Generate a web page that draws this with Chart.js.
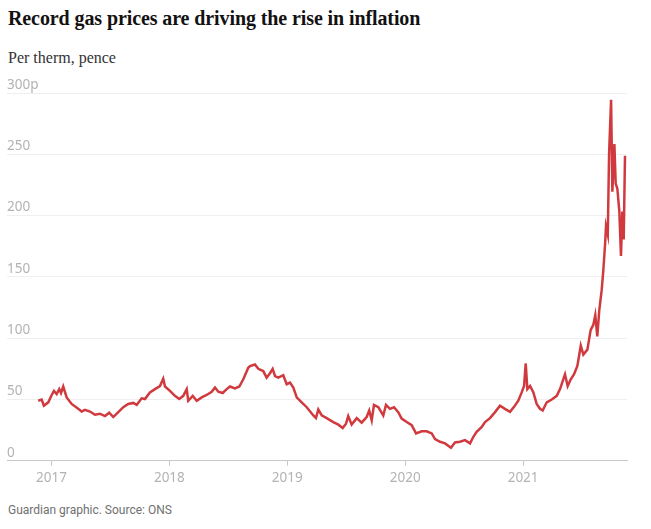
<!DOCTYPE html>
<html lang="en">
<head>
<meta charset="UTF-8">
<title>Record gas prices are driving the rise in inflation</title>
<script src="https://cdn.jsdelivr.net/npm/chart.js"></script>
<style>
    body { margin: 0; background: #fff; }
    .wrap { position: relative; width: 651px; height: 529px; overflow: hidden; }
    .title {
        position: absolute; left: 8px; top: 7px;
        font: bold 20px/22px "Liberation Serif", serif;
        letter-spacing: -0.1px; color: #121212; white-space: nowrap;
    }
    .sub {
        position: absolute; left: 8px; top: 48px;
        font: 16px/20px "Liberation Serif", serif; color: #333;
    }
    .source {
        position: absolute; left: 8px; top: 502px;
        font: 12px/16px Roboto, sans-serif; color: #707070;
    }
    #chart { position: absolute; left: 0; top: 70px; }
</style>
</head>
<body>
<div class="wrap">
    <div class="title">Record gas prices are driving the rise in inflation</div>
    <div class="sub">Per therm, pence</div>
    <canvas id="chart" width="651" height="420"></canvas>
    <div class="source">Guardian graphic. Source: ONS</div>
</div>
<script>
// decimal years
const dates = [
    2016.888, 2016.917, 2016.936, 2016.973, 2017.002, 2017.021, 2017.044, 2017.066, 2017.081, 2017.100,
    2017.129, 2017.171, 2017.227, 2017.256, 2017.284, 2017.327, 2017.369, 2017.411, 2017.454, 2017.490,
    2017.524, 2017.567, 2017.609, 2017.651, 2017.694, 2017.723, 2017.765, 2017.793, 2017.835, 2017.878,
    2017.920, 2017.948, 2017.963, 2018.005, 2018.047, 2018.084, 2018.118, 2018.147, 2018.160, 2018.198,
    2018.232, 2018.274, 2018.316, 2018.359, 2018.387, 2018.415, 2018.452, 2018.486, 2018.514, 2018.556,
    2018.593, 2018.627, 2018.669, 2018.684, 2018.726, 2018.754, 2018.796, 2018.825, 2018.853, 2018.876,
    2018.896, 2018.924, 2018.966, 2018.995, 2019.023, 2019.051, 2019.080, 2019.122, 2019.165, 2019.221,
    2019.243, 2019.263, 2019.292, 2019.334, 2019.390, 2019.433, 2019.470, 2019.498, 2019.517, 2019.546,
    2019.589, 2019.631, 2019.673, 2019.695, 2019.716, 2019.735, 2019.772, 2019.814, 2019.837, 2019.871,
    2019.905, 2019.941, 2019.970, 2020.013, 2020.055, 2020.092, 2020.140, 2020.182, 2020.225, 2020.253,
    2020.295, 2020.338, 2020.388, 2020.422, 2020.465, 2020.507, 2020.550, 2020.578, 2020.606, 2020.649,
    2020.677, 2020.719, 2020.762, 2020.804, 2020.846, 2020.889, 2020.923, 2020.959, 2020.988, 2021.008,
    2021.022, 2021.036, 2021.059, 2021.087, 2021.115, 2021.143, 2021.166, 2021.200, 2021.243, 2021.285,
    2021.313, 2021.355, 2021.378, 2021.404, 2021.432, 2021.460, 2021.489, 2021.511, 2021.545, 2021.573,
    2021.595, 2021.612, 2021.629, 2021.646, 2021.666, 2021.680, 2021.695, 2021.703, 2021.718, 2021.729,
    2021.746, 2021.757, 2021.774, 2021.785, 2021.799, 2021.816, 2021.830, 2021.841, 2021.853, 2021.864
];
// pence per therm
const prices = [
    49, 50, 45, 47.7, 53.7, 57, 54.5, 58.5, 55.3, 60.6,
    51.7, 46.4, 42.4, 40.2, 41.6, 40.2, 37.6, 38.4, 36.5, 39.2,
    35.7, 39.7, 43.7, 46.4, 47.2, 45.6, 51, 50.4, 55.8, 58.5,
    61, 67, 60.6, 57, 53, 50.4, 53, 58.5, 49, 53,
    49, 51.7, 53.7, 56.3, 59.8, 56.3, 55.3, 58.5, 60.6, 59,
    60.6, 66.5, 75.9, 77.3, 78.6, 75, 73.2, 67.8, 71.4, 75,
    69, 67.8, 69.8, 62.5, 63.8, 59.8, 51.7, 47.7, 43.7, 37,
    34.8, 41.8, 37, 34.8, 31.6, 29.5, 26.8, 30.3, 36.5, 29.5,
    34.8, 31.1, 35.7, 41, 33, 45.6, 43.7, 37, 45.6, 42.4,
    43.7, 39.7, 34.4, 31.6, 29, 22.3, 24.1, 24.1, 22.3, 17.7,
    15.5, 14.2, 10.7, 15, 15.5, 16.9, 14.2, 19.6, 23.6, 27.6,
    31.6, 34.8, 39.7, 45, 42.4, 40, 44, 49, 55.8, 61,
    79.4, 58.5, 61, 55.8, 46.4, 42.4, 41, 47.7, 50, 53,
    58.5, 70.6, 61, 66.5, 70.6, 77.3, 93.9, 86.7, 90.7, 106.8,
    110.8, 118.9, 101.4, 123, 139, 155, 176.5, 191.3, 184.5, 250.3,
    294.5, 219.4, 258.3, 226.1, 222.1, 203.4, 167.1, 203.4, 180.5, 248.9
];
const yearTicks = [2017, 2018, 2019, 2020, 2021];
const priceTicks = [0, 50, 100, 150, 200, 250, 300];

const tickFont = { family: "'Noto Sans', sans-serif", size: 13.5 };

new Chart(document.getElementById("chart"), {
    type: "line",
    data: {
        datasets: [{
            label: "Gas price",
            data: dates.map((d, i) => ({ x: d, y: prices[i] })),
            borderColor: "#d0393e",
            borderWidth: 2.5,
            pointRadius: 0,
            tension: 0,
            fill: false
        }]
    },
    options: {
        responsive: false,
        animation: false,
        devicePixelRatio: 1,
        layout: { padding: { top: 23, left: 7, right: 24, bottom: 0 } },
        plugins: { legend: { display: false }, tooltip: { enabled: false } },
        scales: {
            x: {
                type: "linear",
                min: 2016.623,
                max: 2021.881,
                afterBuildTicks: (scale) => { scale.ticks = yearTicks.map(v => ({ value: v })); },
                ticks: {
                    color: "#b3b3b3",
                    font: tickFont,
                    padding: 4,
                    maxRotation: 0,
                    callback: (v) => String(v)
                },
                grid: { drawOnChartArea: false, drawTicks: true, tickLength: 5, tickColor: "#c8c8c8" },
                border: { display: true, color: "#c8c8c8" }
            },
            y: {
                min: 0,
                max: 300,
                afterBuildTicks: (scale) => { scale.ticks = priceTicks.map(v => ({ value: v })); },
                ticks: {
                    mirror: true,
                    padding: 0,
                    labelOffset: -8,
                    color: "#b3b3b3",
                    font: tickFont,
                    callback: (v) => v === 300 ? "300p" : String(v)
                },
                grid: {
                    drawTicks: false,
                    color: (ctx) => ctx.tick && ctx.tick.value === 0 ? "#c8c8c8" : "#efefef"
                },
                border: { display: false }
            }
        }
    }
});
</script>
</body>
</html>
